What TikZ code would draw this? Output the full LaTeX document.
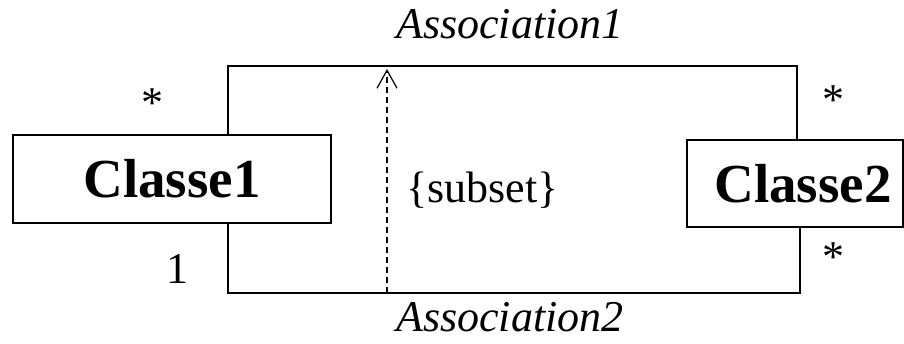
\documentclass[tikz,border=0pt]{standalone}
\usepackage{fontspec}
\setmainfont{Liberation Serif}
\usetikzlibrary{arrows.meta}
\tikzset{
  classbox/.style={draw, line width=1.6pt, inner sep=0pt, font=\fontsize{55}{60}\selectfont\bfseries},
  assoc/.style={line width=1.6pt},
  lbl/.style={inner sep=0pt, font=\fontsize{44}{50}\selectfont},
  ilbl/.style={inner sep=0pt, font=\fontsize{44}{50}\selectfont\itshape},
  subsetarrow/.style={line width=1.2pt, dash pattern=on 6pt off 4pt, -{Straight Barb[length=18pt,width=20pt]}}
}
\begin{document}
\begin{tikzpicture}[x=1pt,y=-1pt]
\useasboundingbox (0,0) rectangle (904,344);
\node[classbox, minimum width=318pt, minimum height=88pt] (c1) at (172,179) {Classe1};
\node[classbox, minimum width=216pt, minimum height=87pt] (c2) at (795,183.5) {\hspace*{16pt}Classe2};
\coordinate (a1l) at (228,66);
\coordinate (a1r) at (797,66);
\coordinate (a2l) at (228,293);
\coordinate (a2r) at (800,293);
\coordinate (s1) at (387,293);
\coordinate (s2) at (387,69);
\draw[assoc] (c1.north -| a1l) -- (a1l) -- (a1r) -- (c2.north -| a1r);
\draw[assoc] ([yshift=2pt]c1.south -| a2l) -- (a2l) -- (a2r) -- (c2.south -| a2r);
\draw[subsetarrow] (s1) -- (s2);
\node[ilbl, anchor=base] (n1) at (510,39) {Association1};
\node[ilbl, anchor=base] (n2) at (510,331) {Association2};
\node[lbl, anchor=base west] (sub) at (406,203) {\{subset\}};
\node[lbl, anchor=base] (m1) at (152,118) {*};
\node[lbl, anchor=base] (m2) at (177,284) {1};
\node[lbl, anchor=base] (m3) at (833,115) {*};
\node[lbl, anchor=base] (m4) at (833,272) {*};
\end{tikzpicture}
\end{document}
